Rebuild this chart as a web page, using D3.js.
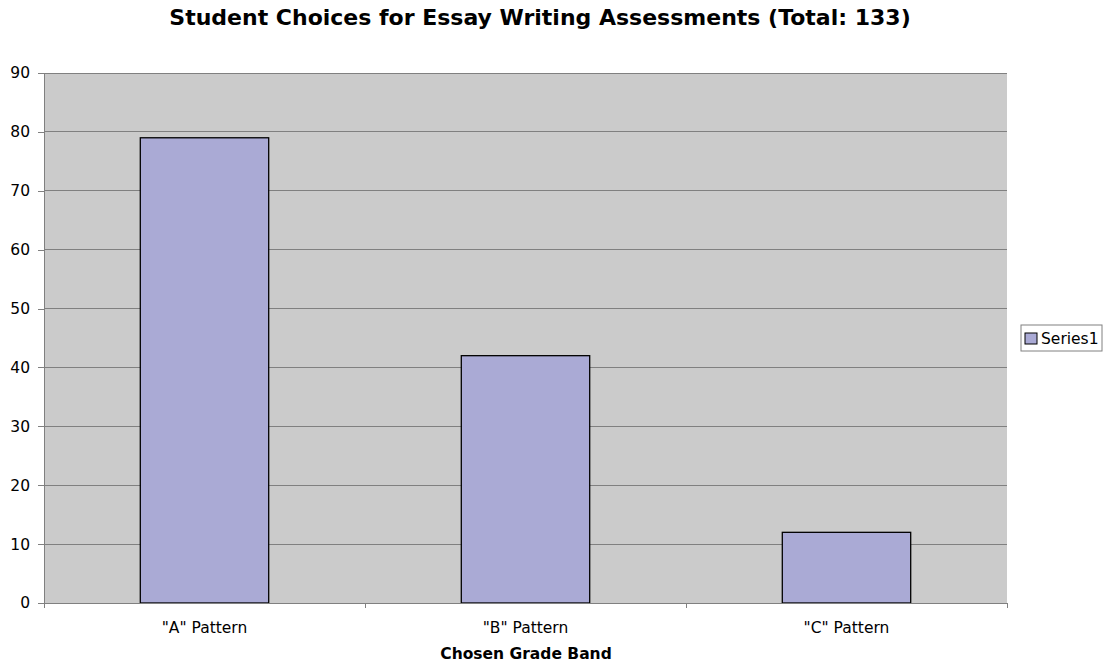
<!DOCTYPE html>
<html>
<head>
<meta charset="utf-8">
<script src="https://cdn.jsdelivr.net/npm/d3@7"></script>
<style>
  body { margin: 0; background: #fff; }
  text { font-family: "DejaVu Sans", Verdana, sans-serif; }
</style>
</head>
<body>
<script>
// chart data
const categories = ['"A" Pattern', '"B" Pattern', '"C" Pattern']
const series1 = [79, 42, 12]
const yTicks = [0, 10, 20, 30, 40, 50, 60, 70, 80, 90]

const W = 1107, H = 666
const plot = { left: 44, right: 1007, top: 73, bottom: 603 }

let svg = d3.select('body').append('svg')
    .attr('width', W)
    .attr('height', H)

// scales
let xScale = d3.scaleBand()
    .domain(categories)
    .range([plot.left, plot.right])
    .paddingInner(0.6)
    .paddingOuter(0.3)

let yScale = d3.scaleLinear()
    .domain([0, 90])
    .range([plot.bottom, plot.top])

// plot background
svg.append('rect')
    .attr('x', plot.left)
    .attr('y', plot.top)
    .attr('width', plot.right - plot.left)
    .attr('height', plot.bottom - plot.top)
    .attr('fill', '#cbcbcb')

// gridlines
svg.append('g')
    .selectAll('line')
    .data(yTicks.filter(d => d > 0))
    .enter().append('line')
    .attr('x1', plot.left)
    .attr('x2', plot.right)
    .attr('y1', d => yScale(d))
    .attr('y2', d => yScale(d))
    .attr('stroke', '#808080')
    .attr('stroke-width', 1)
    .attr('shape-rendering', 'crispEdges')

// bars
svg.append('g')
    .selectAll('rect')
    .data(series1)
    .enter().append('rect')
    .attr('x', (d, i) => xScale(categories[i]))
    .attr('y', d => yScale(d))
    .attr('width', xScale.bandwidth())
    .attr('height', d => plot.bottom - yScale(d))
    .attr('fill', '#aaaad5')
    .attr('stroke', '#000')
    .attr('stroke-width', 1.3)

// y axis
let yAxis = d3.axisLeft(yScale)
    .tickValues(yTicks)
    .tickSize(6)
    .tickPadding(8)

svg.append('g')
    .attr('transform', `translate(${plot.left},0)`)
    .call(yAxis)
    .call(g => g.selectAll('path, line').attr('stroke', '#808080').attr('shape-rendering', 'crispEdges'))
    .call(g => g.selectAll('text').attr('font-size', 15.5).attr('fill', '#000')
        .style('font-family', '"DejaVu Sans", Verdana, sans-serif'))

// x axis: ticks at category boundaries
let step = (plot.right - plot.left) / categories.length
let boundaries = d3.range(categories.length + 1).map(i => plot.left + i * step)

let xg = svg.append('g')
xg.append('line')
    .attr('x1', plot.left).attr('x2', plot.right)
    .attr('y1', plot.bottom).attr('y2', plot.bottom)
    .attr('stroke', '#808080')
    .attr('shape-rendering', 'crispEdges')
xg.selectAll('.xtick')
    .data(boundaries)
    .enter().append('line')
    .attr('x1', d => d).attr('x2', d => d)
    .attr('y1', plot.bottom).attr('y2', plot.bottom + 5)
    .attr('stroke', '#808080')
    .attr('shape-rendering', 'crispEdges')
xg.selectAll('text')
    .data(categories)
    .enter().append('text')
    .attr('x', d => xScale(d) + xScale.bandwidth() / 2)
    .attr('y', 633)
    .attr('text-anchor', 'middle')
    .attr('font-size', 15.5)
    .text(d => d)

// title
svg.append('text')
    .attr('x', 540)
    .attr('y', 25)
    .attr('text-anchor', 'middle')
    .attr('font-size', 22)
    .attr('font-weight', 'bold')
    .text('Student Choices for Essay Writing Assessments (Total: 133)')

// x axis title
svg.append('text')
    .attr('x', 526)
    .attr('y', 659)
    .attr('text-anchor', 'middle')
    .attr('font-size', 15.5)
    .attr('font-weight', 'bold')
    .text('Chosen Grade Band')

// legend
let legend = svg.append('g').attr('transform', 'translate(1021,325)')
legend.append('rect')
    .attr('width', 81).attr('height', 26)
    .attr('fill', '#fff')
    .attr('stroke', '#808080')
legend.append('rect')
    .attr('x', 4).attr('y', 8)
    .attr('width', 12).attr('height', 11)
    .attr('fill', '#aaaad5')
    .attr('stroke', '#000')
legend.append('text')
    .attr('x', 20).attr('y', 19)
    .attr('font-size', 15.5)
    .text('Series1')
</script>
</body>
</html>
